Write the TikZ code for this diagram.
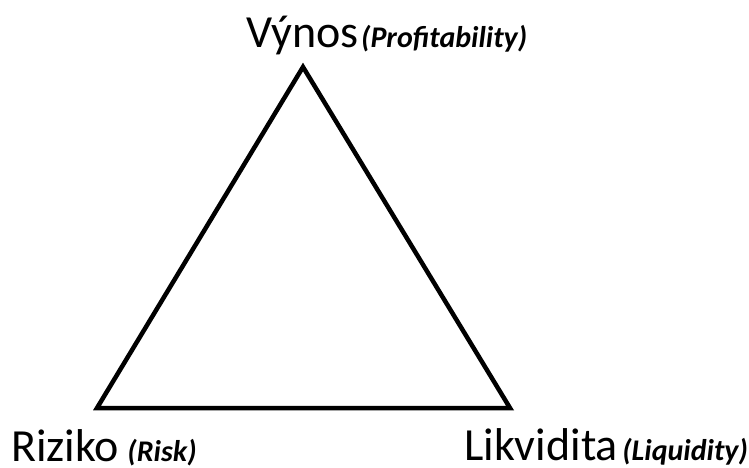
\documentclass[tikz,border=0pt]{standalone}
\usepackage{fontspec}
\setmainfont{Carlito}
\begin{document}
\begin{tikzpicture}[x=1pt,y=-1pt,
  big/.style={inner sep=0pt,anchor=base west,font=\fontsize{46}{50}\selectfont},
  small/.style={inner sep=0pt,anchor=base west,font=\fontsize{30}{34}\selectfont\bfseries\itshape},
  edge/.style={line width=4.5pt,line join=miter}]
\useasboundingbox (0,0) rectangle (749,468);
\coordinate (top) at (303,67);
\coordinate (bl) at (97,408);
\coordinate (br) at (510,408);
\draw[edge] (top) -- (bl) -- (br) -- cycle;
\node[big] (vynos) at (246,48) {Výnos};
\node[small] (prof) at ([xshift=2pt]vynos.base east) {(Profitability)};
\node[big] (riz) at (11,461) {Riziko};
\node[small] (risk) at ([xshift=8pt]riz.base east) {(Risk)};
\node[big] (lik) at (464,460) {Likvidita};
\node[small] (liq) at ([xshift=4pt]lik.base east) {(Liquidity)};
\end{tikzpicture}
\end{document}
